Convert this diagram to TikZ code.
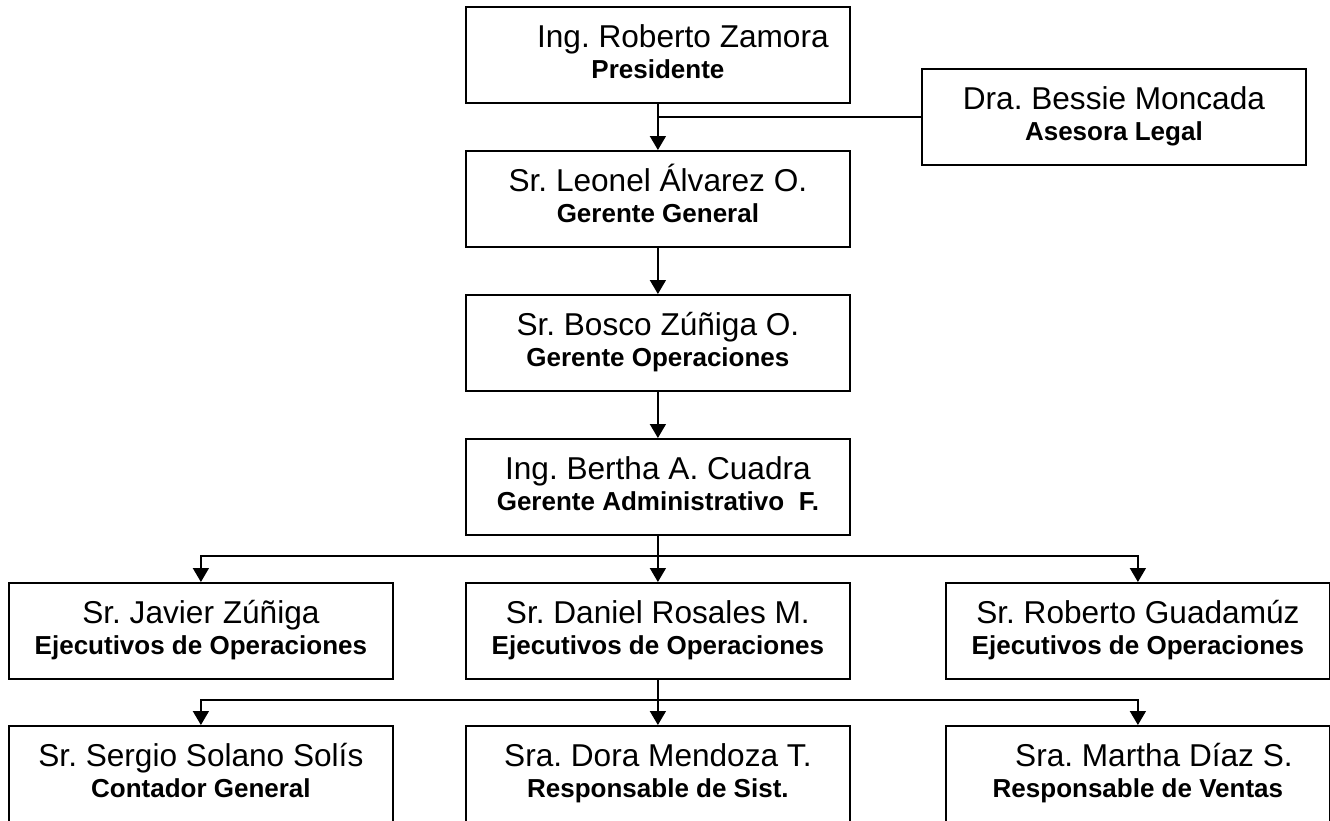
\documentclass[tikz,border=0pt]{standalone}
\usepackage{fontspec}
\setmainfont{Liberation Sans}
\usetikzlibrary{arrows.meta}
\frenchspacing

\tikzset{
  post/.style={draw, line width=1.8pt, minimum width=384pt, minimum height=96pt,
               inner sep=0pt, anchor=north west},
  wire/.style={line width=1.6pt, line join=miter},
  flow/.style={wire, -{Triangle[length=14pt,width=16pt]}},
  who/.style={anchor=base, inner sep=0pt, font=\fontsize{31.6}{36}\selectfont},
  role/.style={anchor=base, inner sep=0pt, font=\fontsize{26}{30}\selectfont\bfseries},
}

% \orgbox{id}{left}{top}{name}{role}{name offset}
\newcommand\orgbox[6]{%
  \node[post] (#1) at (#2,#3) {};
  \node[who]  (#1-name) at ([xshift=#6pt, yshift=-41pt]#1.north) {#4};
  \node[role] (#1-role) at ([yshift=-72pt]#1.north) {#5};
}

\begin{document}
\begin{tikzpicture}[x=1pt, y=-1pt]
  \clip (0,0) rectangle (1330,820);
  \fill[white] (0,0) rectangle (1330,820);

  % management chain
  \orgbox{pres}{465}{6}{Ing. Roberto Zamora}{Presidente}{25}
  \orgbox{legal}{921}{68}{Dra. Bessie Moncada}{Asesora Legal}{0}
  \orgbox{gg}{465}{150}{Sr. Leonel Álvarez O.}{Gerente General}{0}
  \orgbox{ops}{465}{294}{Sr. Bosco Zúñiga O.}{Gerente Operaciones}{0}
  \orgbox{adm}{465}{438}{Ing. Bertha A. Cuadra}{Gerente Administrativo\ \ F.}{0}

  % operations executives
  \orgbox{javier}{8}{582}{Sr. Javier Zúñiga}{Ejecutivos de Operaciones}{0}
  \orgbox{daniel}{465}{582}{Sr. Daniel Rosales M.}{Ejecutivos de Operaciones}{0}
  \orgbox{guada}{945}{582}{Sr. Roberto Guadamúz}{Ejecutivos de Operaciones}{0}

  % staff
  \orgbox{sergio}{8}{725}{Sr. Sergio Solano Solís}{Contador General}{0}
  \orgbox{dora}{465}{725}{Sra. Dora Mendoza T.}{Responsable de Sist.}{0}
  \orgbox{martha}{945}{725}{Sra. Martha Díaz S.}{Responsable de Ventas}{16}

  % connectors
  \draw[flow] (pres.south) -- (gg.north);
  \coordinate (legaltap) at (pres.south |- legal.west);
  \draw[wire] (legaltap) -- (legal.west);
  \draw[flow] (gg.south) -- (ops.north);
  \draw[flow] (ops.south) -- (adm.north);

  \coordinate (bus1) at (657,556);
  \draw[flow] (adm.south) -- (daniel.north);
  \draw[flow] (bus1) -| (javier.north);
  \draw[flow] (bus1) -| (guada.north);

  \coordinate (bus2) at (657,700);
  \draw[flow] (daniel.south) -- (dora.north);
  \draw[flow] (bus2) -| (sergio.north);
  \draw[flow] (bus2) -| (martha.north);
\end{tikzpicture}
\end{document}
